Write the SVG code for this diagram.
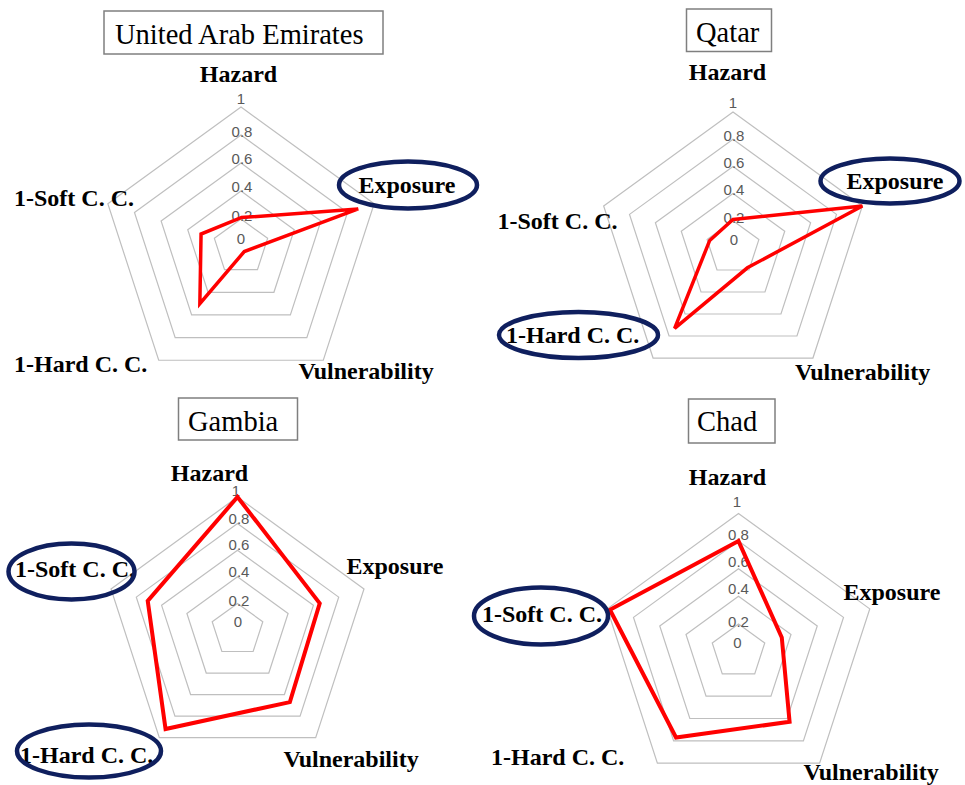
<svg xmlns="http://www.w3.org/2000/svg" width="965" height="785" viewBox="0 0 965 785">
<style>
.ring{fill:none;stroke:#BFBFBF;stroke-width:1.2}
.data{fill:none;stroke:#FF0000;stroke-width:3.5;stroke-linejoin:miter}
.data2{fill:none;stroke:#FF0000;stroke-width:4;stroke-linejoin:miter}
.hl{fill:none;stroke:#0F1F5E;stroke-width:4.5}
.tbox{fill:#FFFFFF;stroke:#7F7F7F;stroke-width:1.5}
.title{font-family:"Liberation Serif","Times New Roman",serif;font-size:28.5px;fill:#000}
.lab{font-family:"Liberation Serif","Times New Roman",serif;font-size:24px;font-weight:bold;fill:#000}
.tick{font-family:"Liberation Sans",Arial,sans-serif;font-size:15px;fill:#595959;text-anchor:middle}
</style>
<rect width="965" height="785" fill="#FFFFFF"/>

<g id="chart-uae">
  <g id="uae-grid">
    <polygon class="ring" points="241,219 267.63,238.35 257.46,269.65 224.54,269.65 214.37,238.35"/>
    <polygon class="ring" points="241,191 294.26,229.69 273.92,292.31 208.08,292.31 187.74,229.69"/>
    <polygon class="ring" points="241,163 320.89,221.04 290.37,314.96 191.63,314.96 161.11,221.04"/>
    <polygon class="ring" points="241,135 347.52,212.39 306.83,337.61 175.17,337.61 134.48,212.39"/>
    <polygon class="ring" points="241,107 374.15,203.74 323.29,360.26 158.71,360.26 107.85,203.74"/>
  </g>
  <g id="uae-ticks">
    <text class="tick" x="241" y="243.5">0</text>
    <text class="tick" x="242" y="221">0.2</text>
    <text class="tick" x="242" y="192">0.4</text>
    <text class="tick" x="242" y="164">0.6</text>
    <text class="tick" x="242" y="137">0.8</text>
    <text class="tick" x="241" y="104">1</text>
  </g>
  <polygon id="uae-data" class="data" points="241,217.6 358.17,208.93 244.29,251.53 199.85,303.63 201.06,234.02"/>
  <g id="uae-title"><rect class="tbox" x="104" y="11" width="279" height="43"/><text class="title" x="115" y="43.5">United Arab Emirates</text></g>
  <g id="uae-labels">
    <text class="lab" x="238.5" y="81.5" text-anchor="middle">Hazard</text>
    <text class="lab" x="358.5" y="192.5">Exposure</text>
    <text class="lab" x="14" y="205.5">1-Soft C. C.</text>
    <text class="lab" x="14" y="371.5">1-Hard C. C.</text>
    <text class="lab" x="298.5" y="378.5">Vulnerability</text>
  </g>
  <ellipse id="uae-hl-exposure" class="hl" cx="408" cy="185" rx="69" ry="23.5"/>
</g>

<g id="chart-qatar">
  <g id="qatar-grid">
    <polygon class="ring" points="733,220.8 758.87,239.6 748.99,270.01 717.01,270.01 707.13,239.6"/>
    <polygon class="ring" points="733,193.6 784.74,231.19 764.98,292.01 701.02,292.01 681.26,231.19"/>
    <polygon class="ring" points="733,166.4 810.61,222.78 780.96,314.02 685.04,314.02 655.39,222.78"/>
    <polygon class="ring" points="733,139.2 836.48,214.38 796.95,336.02 669.05,336.02 629.52,214.38"/>
    <polygon class="ring" points="733,112 862.34,205.97 812.94,358.03 653.06,358.03 603.66,205.97"/>
  </g>
  <g id="qatar-ticks">
    <text class="tick" x="734" y="244.5">0</text>
    <text class="tick" x="734" y="223">0.2</text>
    <text class="tick" x="734" y="195">0.4</text>
    <text class="tick" x="734" y="168">0.6</text>
    <text class="tick" x="734" y="141">0.8</text>
    <text class="tick" x="733" y="108">1</text>
  </g>
  <polygon id="qatar-data" class="data" points="733,219.4 862.34,205.97 747.4,267.82 674.63,328.33 709.7,240.43"/>
  <g id="qatar-title"><rect class="tbox" x="686.5" y="9" width="85" height="42.5"/><text class="title" x="696" y="42">Qatar</text></g>
  <g id="qatar-labels">
    <text class="lab" x="727.5" y="80" text-anchor="middle">Hazard</text>
    <text class="lab" x="846.5" y="188.5">Exposure</text>
    <text class="lab" x="497.5" y="229">1-Soft C. C.</text>
    <text class="lab" x="506" y="343">1-Hard C. C.</text>
    <text class="lab" x="795" y="380">Vulnerability</text>
  </g>
  <ellipse id="qatar-hl-exposure" class="hl" cx="890" cy="181" rx="69.5" ry="22.5"/>
  <ellipse id="qatar-hl-hard" class="hl" cx="578.5" cy="335" rx="79.5" ry="23"/>
</g>

<g id="chart-gambia">
  <g id="gambia-grid">
    <polygon class="ring" points="237.5,603.4 262.8,621.78 253.14,651.52 221.87,651.52 212.2,621.78"/>
    <polygon class="ring" points="237.5,576.8 288.1,613.56 268.77,673.04 206.23,673.04 186.9,613.56"/>
    <polygon class="ring" points="237.5,550.2 313.39,605.34 284.41,694.56 190.59,694.56 161.61,605.34"/>
    <polygon class="ring" points="237.5,523.6 338.69,597.12 300.04,716.08 174.96,716.08 136.31,597.12"/>
    <polygon class="ring" points="237.5,497 363.99,588.9 315.68,737.6 159.32,737.6 111.01,588.9"/>
  </g>
  <g id="gambia-ticks">
    <text class="tick" x="238" y="626.5">0</text>
    <text class="tick" x="239" y="605.5">0.2</text>
    <text class="tick" x="239" y="576.5">0.4</text>
    <text class="tick" x="239" y="550">0.6</text>
    <text class="tick" x="239" y="523.5">0.8</text>
    <text class="tick" x="236" y="496">1</text>
  </g>
  <polygon id="gambia-data" class="data2" points="237.5,497 319.72,603.29 289.87,702.08 165.56,729.02 147.72,600.83"/>
  <g id="gambia-title"><rect class="tbox" x="178.5" y="398" width="119" height="42"/><text class="title" x="188" y="430.5">Gambia</text></g>
  <g id="gambia-labels">
    <text class="lab" x="209.5" y="481" text-anchor="middle">Hazard</text>
    <text class="lab" x="346.5" y="573.5">Exposure</text>
    <text class="lab" x="15" y="576.5">1-Soft C. C.</text>
    <text class="lab" x="20" y="762.5">1-Hard C. C.</text>
    <text class="lab" x="283.5" y="766.5">Vulnerability</text>
  </g>
  <ellipse id="gambia-hl-soft" class="hl" cx="71.5" cy="571.5" rx="63" ry="28"/>
  <ellipse id="gambia-hl-hard" class="hl" cx="89" cy="751" rx="72" ry="26.5"/>
</g>

<g id="chart-chad">
  <g id="chad-grid">
    <polygon class="ring" points="738.5,623.9 764.75,642.97 754.72,673.83 722.28,673.83 712.25,642.97"/>
    <polygon class="ring" points="738.5,596.3 791,634.44 770.95,696.16 706.05,696.16 686,634.44"/>
    <polygon class="ring" points="738.5,568.7 817.25,625.91 787.17,718.49 689.83,718.49 659.75,625.91"/>
    <polygon class="ring" points="738.5,541.1 843.5,617.38 803.39,740.82 673.61,740.82 633.5,617.38"/>
    <polygon class="ring" points="738.5,513.5 869.75,608.86 819.62,763.14 657.38,763.14 607.25,608.86"/>
  </g>
  <g id="chad-ticks">
    <text class="tick" x="737.5" y="648">0</text>
    <text class="tick" x="738.5" y="626.5">0.2</text>
    <text class="tick" x="738.5" y="594">0.4</text>
    <text class="tick" x="738.5" y="567">0.6</text>
    <text class="tick" x="738.5" y="540">0.8</text>
    <text class="tick" x="737" y="506.5">1</text>
  </g>
  <polygon id="chad-data" class="data2" points="738.5,541.1 781.77,637.44 789.58,721.8 676.02,737.5 609.92,609.72"/>
  <g id="chad-title"><rect class="tbox" x="688.5" y="399" width="86.5" height="44"/><text class="title" x="697" y="431">Chad</text></g>
  <g id="chad-labels">
    <text class="lab" x="727.5" y="485" text-anchor="middle">Hazard</text>
    <text class="lab" x="843.5" y="599.5">Exposure</text>
    <text class="lab" x="482" y="621.5">1-Soft C. C.</text>
    <text class="lab" x="491" y="765">1-Hard C. C.</text>
    <text class="lab" x="803.5" y="780">Vulnerability</text>
  </g>
  <ellipse id="chad-hl-soft" class="hl" cx="541" cy="616" rx="67" ry="28.5"/>
</g>
</svg>
